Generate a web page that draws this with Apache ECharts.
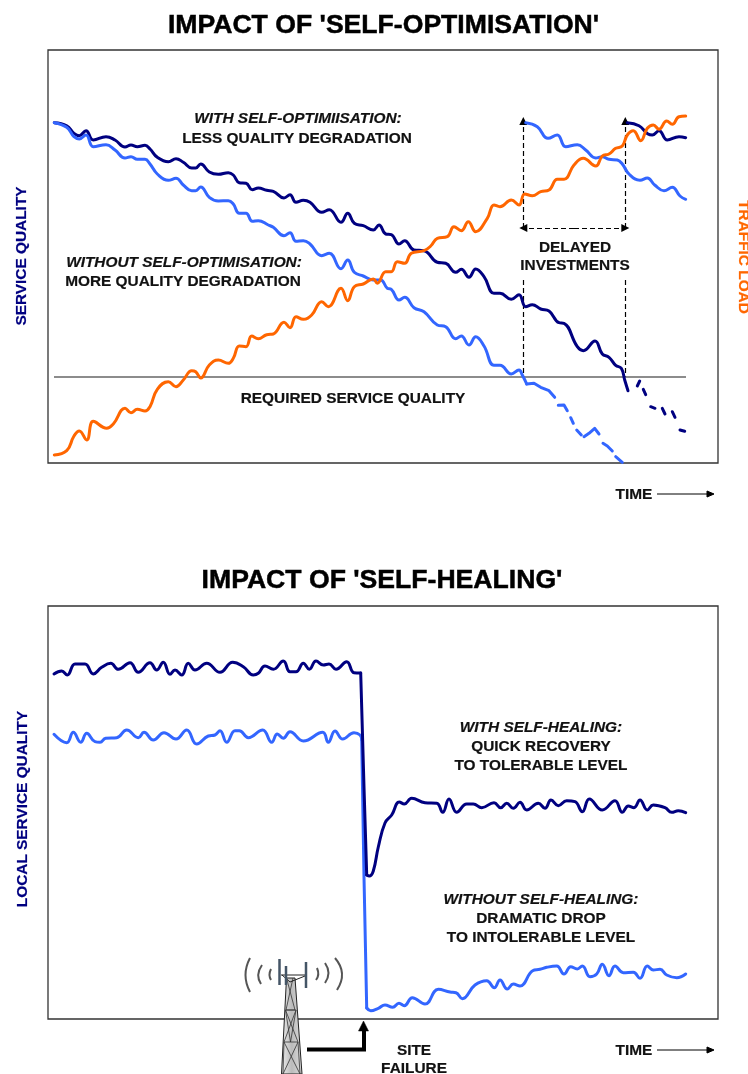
<!DOCTYPE html>
<html>
<head>
<meta charset="utf-8">
<title>Impact of self-optimisation and self-healing</title>
<script src="https://cdn.jsdelivr.net/npm/echarts@6/dist/echarts.min.js"></script>
<style>
    html, body { margin: 0; padding: 0; background: #fff; overflow: hidden; }
    #chart { width: 748px; height: 1074px; }
</style>
</head>
<body>
<div id="chart"></div>
<script>
// Top chart: [time, level], null marks a gap between dashes
const optWith = [[6.3,340.3],[18.7,337.3],[26,329.7],[31.3,327.3],[38,332.3],[45.3,323],[58,326.3],[67,323],[77,316],[83,318],[89.3,316.3],[97,317.7],[102,314],[109.3,305.7],[120.3,301.3],[128,304.3],[135.3,300.7],[143.7,295],[147.7,295],[152.7,299],[161.3,291],[170.3,288.7],[180.3,290.3],[185.3,288],[191.3,280.3],[198,279.7],[204.3,273.3],[210.3,275],[218.7,272.7],[225.3,271.7],[236,265],[242,268.3],[248,260.7],[255.3,262.7],[262,260.7],[273.7,250.7],[281.3,253.3],[293,240.7],[299.7,249.7],[306.3,239.7],[315.3,237.3],[325.3,233],[331,238],[337.7,229],[343.3,228.3],[351,219],[356.7,222.3],[366,213],[376,212.3],[389.3,200.7],[397.7,199.7],[407.7,190.7],[413.3,193.7],[421,185.7],[427.7,194],[436,186.3],[446,169.7],[452,169.7],[463.3,163.7],[471,168.3],[477.7,156.3],[484.3,158.3],[492.7,154],[501,152],[511,140.3],[516,139.7],[529.3,116.3],[535.3,112.3],[547,122],[554.3,109],[561,105.7],[567.7,97.7],[573.3,94.7],[576.7,83],[580,72.3]];
const optWithDashes = [[589.3,77],[591.7,82],[592,null],[595.3,73.7],[597.7,68.3],[600,null],[602.7,56.3],[607,54.7],[610,null],[614.3,54.7],[617,49],[620,null],[624.3,51.3],[627,45.7],[630,null],[632,33],[636.7,31.7]];
const optWithDelayed = [[579.3,340.3],[591,337.3],[600,329],[604.3,328],[611,332.3],[619.3,323],[631,326.3],[637.7,325.3]];
const optWithout = [[6.3,340.3],[18.7,335.7],[26,326.3],[31.3,324],[38,328],[45.3,316.3],[58,318.3],[67,313],[77,305],[83,306.3],[89.3,303.7],[97,303.7],[102,299],[109.3,289],[120.3,282.7],[128,284.7],[135.3,278],[143.7,272.3],[147.7,272.3],[152.7,276],[161.3,265.7],[170.3,262],[180.3,262.3],[185.3,259],[191.3,249.7],[198,249.7],[204.3,241.7],[210.3,242.3],[220.3,238],[225.3,235.7],[236,227.3],[242,230.3],[248,221.7],[255.3,222.3],[262,219],[273.7,207.3],[281.3,209.7],[293,194.3],[299.7,203],[306.3,190.7],[315.3,187],[325.3,183],[332.7,183],[339.3,174.7],[343.3,173.7],[351,163],[356.7,165.7],[366,155.3],[376,151.3],[389.3,138],[397.7,136.3],[407.7,124.3],[413.3,127],[421,118],[427.7,126.3],[436,117],[446,97.7],[452,97.7],[463.3,89],[471,93],[474.3,88],[478.7,79]];
const optWithoutDashes = [[478.7,79],[486,79.7],[492.7,75.7],[501,72.3],[506.7,65.7],[508,null],[510.3,57.7],[516,58],[519.3,52.3],[521,null],[522.7,45.3],[525.3,39.7],[527,null],[528.7,33],[533.3,28],[534.5,null],[536,26.3],[541,29.7],[546.7,34.7],[551,29],[553,null],[555,19.7],[559.3,17],[564.3,12],[566,null],[567.7,6.3],[574.3,0.7]];
const optWithoutDelayed = [[477.7,340.3],[489.3,336.3],[500,324.7],[509.3,328],[517.7,316.3],[529.3,318.3],[537.7,313],[547.7,305],[554.3,306.3],[561,303.7],[569.3,303],[574.3,299],[581,289],[592,282.7],[599.3,285],[606.7,278],[616,272.3],[624.3,275.7],[632,267],[637.7,263.7]];
const trafficLoad = [[6.3,8],[18.7,12.3],[26,27],[31.3,32],[38.7,23],[45.3,41.7],[58.7,34.7],[65.3,39],[77,54.7],[83,50.3],[89.3,53.7],[97,52],[102,56.3],[109.3,73.7],[120.3,81.3],[128,76.3],[135.3,83],[143.7,92.3],[147.7,91.3],[152.7,85],[161.3,98],[170.3,103],[180.3,99.7],[185.3,104.7],[191.3,117],[198,116.3],[203.7,127],[210.3,124.3],[218.7,128.3],[225.3,129],[236,140.7],[242,135.3],[248,146.3],[255.3,143.7],[263.7,148],[273.7,161.3],[280.3,156.3],[293,174.7],[299.7,162.3],[306.3,176.3],[315.3,179],[325.3,184],[329.3,179.7],[337.7,191.3],[343.3,191.3],[349.3,201.3],[356.7,199.7],[363.3,209.7],[376,212.3],[382.7,217],[389.3,224.7],[399.3,226.3],[406,236.3],[413.3,232.3],[420.3,241.3],[427.7,231.3],[439.3,244.7],[446,258],[452,256.3],[463.3,263],[471,258],[476.7,269],[484.3,267.3],[492.7,271.3],[501,273],[509.3,283.7],[516,283.7],[526,298],[535.3,304.7],[547.7,297],[554.3,307],[561,309],[567.7,314.7],[574.3,317],[579.3,328],[585.3,332.3],[592.7,322.3],[599.3,334.7],[605.3,338],[611,333.7],[618.7,342],[624.3,338.7],[631,346.3],[637.7,347]];
const requiredQuality = [[6,86],[638,86]];
const delayedArrows = [
    [[475.3,235],[475.3,342]],
    [[577.3,235],[577.3,342]],
    [[526,235],[475.3,235]],
    [[526,235],[577.3,235]]
];
const delayedDrops = [
    [[475.3,183],[475.3,86]],
    [[577.3,183],[577.3,86]]
];

// Bottom chart, split at the site failure so the drop stays sharp
const healWithBefore = [[6,345],[13.7,348],[19.3,344],[27,355],[37,355],[45.3,345],[53.7,351.7],[62.7,355.7],[70.3,349.7],[82,356.3],[90.3,346.7],[102,356.3],[108.7,349],[115.3,356.7],[122,344.7],[127,349],[133.7,344],[140.3,355.7],[147,349],[158.7,355.7],[172,346.7],[184.7,356.7],[195.3,352.3],[205.3,344],[210.3,345.7],[217,353],[225.3,349.7],[235.3,358],[242,347.3],[248,347.3],[255.3,355.7],[261.3,349.7],[268,358],[275.3,354],[281,355],[288,349.7],[298.7,357.3],[306,346.3],[312.7,346]];
const healWithDrop = [[312.7,346],[316,232],[318.7,144]];
const healWithAfter = [[318.7,144],[321.3,143],[325.3,148],[330.3,172],[337,196],[343.7,204],[351.3,217],[356.3,215],[363.7,220.7],[377,216.3],[388.7,215.7],[394.7,206.7],[401,220],[408.7,206.7],[418.7,215],[425.3,215],[433.7,211.3],[446,216.3],[452.7,211.3],[458.7,215.7],[465.3,210.7],[472,216.7],[478.7,209],[490.3,215.7],[497,210.7],[503,219],[510.3,213.3],[518.7,218.3],[527,217.3],[534.3,207.3],[541.3,220],[554.3,209],[567,218.3],[574.3,206.7],[580.3,213],[586,211.3],[592,219],[599.3,209],[605.3,214],[617,211.3],[623.7,206.7],[630.3,208.3],[637.7,206.3]];
const healWithoutBefore = [[6,284.7],[18.7,276.3],[25.3,286.7],[32.7,276.7],[38.7,285.7],[47,277.3],[52,276.7],[57.7,280.7],[68.7,281.3],[78.7,289],[90.3,281.3],[96,286.7],[105.3,279],[116,286.3],[128,280],[138.7,289],[148.7,275],[160.3,283],[167,284],[172,288.3],[178.7,276.7],[187,288.3],[191.3,288.3],[200.3,281.3],[214.7,289],[223.7,276.7],[229.3,285],[235.3,280.7],[242,287.3],[255.3,278],[274.7,286.7],[280.3,276.7],[287,288],[294.7,280],[306,286.3],[312,284],[313.7,279]];
const healWithoutDrop = [[313.7,279],[316,142],[318.7,11]];
const healWithoutAfter = [[318.7,11],[322.7,8.3],[330.3,10.7],[337,14],[344.7,11.7],[351,15.7],[356.3,13.3],[364.3,21.3],[377,15],[390.3,29.7],[402,27],[408,26.3],[414.3,20.3],[427,34],[438.7,38.3],[446.3,31.3],[452,39],[459.3,30],[465.3,35],[472,33],[484.7,48.3],[492,49.7],[498.7,51.7],[508.7,53],[516,45],[522.7,52.3],[529.3,50],[534.3,53],[542,42.3],[548.7,45],[554.3,54.7],[561,43.3],[567,53],[575.3,46.3],[585.3,46.7],[592,40.7],[599.3,53],[605.3,49],[612,49.7],[618.7,44],[628.7,41.3],[637.7,45]];

const NAVY = '#000080';
const BLUE = '#3366ff';
const ORANGE = '#ff6600';
const FONT = '"Liberation Sans", Arial, sans-serif';

function curve(name, data, color, gridIndex, smooth) {
    return {
        name: name,
        type: 'line',
        xAxisIndex: gridIndex,
        yAxisIndex: gridIndex,
        data: data,
        showSymbol: false,
        smooth: smooth === undefined ? 0.45 : smooth,
        connectNulls: false,
        lineStyle: { color: color, width: 3, cap: 'round', join: 'round' },
        itemStyle: { color: color },
        silent: true
    };
}

function label(str, x, y, opts) {
    opts = opts || {};
    const color = opts.color || '#111';
    const rotation = opts.rotation || 0;
    return {
        type: 'text',
        // glyphs sit a pixel high with middle alignment
        x: x + (rotation > 0 ? 1 : rotation < 0 ? -1 : 0),
        y: y + (rotation ? 0 : 1),
        rotation: rotation,
        silent: true,
        z: 10,
        style: {
            text: str,
            fill: color,
            stroke: color,
            lineWidth: opts.heavy || 0.2,
            font: (opts.italic ? 'italic ' : '') + 'bold ' + (opts.size || 15.4) + 'px ' + FONT,
            textAlign: 'center',
            textVerticalAlign: 'middle'
        }
    };
}

function poly(points, stroke, width, fill) {
    return {
        type: fill ? 'polygon' : 'polyline',
        silent: true,
        z: 10,
        shape: { points: points },
        style: { stroke: stroke, lineWidth: width, fill: fill || null }
    };
}

function wave(x1, y1, cx, cy, x2, y2) {
    return {
        type: 'bezierCurve',
        silent: true,
        z: 10,
        shape: { x1: x1, y1: y1, cpx1: cx, cpy1: cy, x2: x2, y2: y2 },
        style: { stroke: '#555', lineWidth: 2, fill: null }
    };
}

function timeArrow(y) {
    return [
        label('TIME', 634, y - 0.5),
        poly([[657, y], [708, y]], '#000', 1),
        poly([[707, y - 3], [714, y], [707, y + 3]], '#000', 1, '#000')
    ];
}

// site tower with its radio waves, bottom chart
const tower = [
    poly([[286.5, 978], [295, 978], [302, 1074], [281.5, 1074]], '#222', 1, {
        type: 'linear', x: 0, y: 0, x2: 1, y2: 0,
        colorStops: [{ offset: 0, color: '#eee' }, { offset: 0.5, color: '#bbb' }, { offset: 1, color: '#ddd' }]
    }),
    poly([[286.5, 978], [295, 1010], [286, 1010], [293, 978]], '#333', 0.8),
    poly([[285.5, 1010], [296, 1010], [284, 1042], [298, 1042], [285.5, 1010]], '#333', 0.8),
    poly([[296, 1010], [290.5, 1042], [285.5, 1010]], '#333', 0.8),
    poly([[284, 1042], [300, 1074], [298, 1042], [283, 1074], [284, 1042]], '#333', 0.8),
    poly([[281, 975], [305, 975]], '#222', 1),
    poly([[282, 975], [290, 982], [305, 976]], '#222', 1),
    poly([[279.5, 959], [279.5, 985]], '#456', 2.5),
    poly([[286, 966], [286, 985]], '#456', 2.5),
    poly([[306, 962], [306, 988]], '#456', 2.5),
    wave(250, 958, 241, 975, 250, 992),
    wave(262, 965, 255, 975, 261, 984),
    wave(271, 969, 268, 975, 271, 980),
    wave(317, 968, 320, 975, 316, 980),
    wave(325, 963, 332, 973, 325, 983),
    wave(335, 958, 348, 973, 337, 990)
];

const chart = echarts.init(document.getElementById('chart'));
chart.setOption({
    animation: false,
    backgroundColor: '#fff',
    grid: [
        { left: 48, top: 50, width: 670, height: 413, show: true, borderColor: '#333', borderWidth: 1.3, backgroundColor: '#fff' },
        { left: 48, top: 606, width: 670, height: 413, show: true, borderColor: '#333', borderWidth: 1.3, backgroundColor: '#fff' }
    ],
    xAxis: [
        { type: 'value', gridIndex: 0, min: 0, max: 670, show: false },
        { type: 'value', gridIndex: 1, min: 0, max: 670, show: false }
    ],
    yAxis: [
        { type: 'value', gridIndex: 0, min: 0, max: 413, show: false },
        { type: 'value', gridIndex: 1, min: 0, max: 413, show: false }
    ],
    series: [
        {
            type: 'line',
            data: requiredQuality,
            showSymbol: false,
            lineStyle: { color: '#666', width: 1.5 },
            itemStyle: { color: '#666' },
            silent: true
        },
        {
            type: 'lines',
            coordinateSystem: 'cartesian2d',
            data: delayedArrows.map(function (c) { return { coords: c }; }),
            symbol: ['none', 'triangle'],
            symbolSize: 8,
            lineStyle: { color: '#000', width: 1.2, type: [5, 3], opacity: 1, curveness: 0 },
            silent: true,
            z: 3
        },
        {
            type: 'lines',
            coordinateSystem: 'cartesian2d',
            data: delayedDrops.map(function (c) { return { coords: c }; }),
            symbol: ['none', 'none'],
            lineStyle: { color: '#000', width: 1.2, type: [5, 3], opacity: 1, curveness: 0 },
            silent: true,
            z: 3
        },
        curve('with', optWith, NAVY, 0),
        curve('with dashes', optWithDashes, NAVY, 0, 0),
        curve('with delayed', optWithDelayed, NAVY, 0),
        curve('without', optWithout, BLUE, 0),
        curve('without dashes', optWithoutDashes, BLUE, 0, 0),
        curve('without delayed', optWithoutDelayed, BLUE, 0),
        curve('traffic', trafficLoad, ORANGE, 0),
        curve('heal without before', healWithoutBefore, BLUE, 1),
        curve('heal without drop', healWithoutDrop, BLUE, 1, 0),
        curve('heal without after', healWithoutAfter, BLUE, 1),
        curve('heal with before', healWithBefore, NAVY, 1),
        curve('heal with drop', healWithDrop, NAVY, 1, 0),
        curve('heal with after', healWithAfter, NAVY, 1)
    ],
    graphic: [
        label("IMPACT OF 'SELF-OPTIMISATION'", 383.5, 25, { size: 26.6, color: '#000', heavy: 0.5 }),
        label("IMPACT OF 'SELF-HEALING'", 382, 580, { size: 26.6, color: '#000', heavy: 0.5 }),
        label('SERVICE QUALITY', 21, 256, { rotation: Math.PI / 2, color: NAVY }),
        label('LOCAL SERVICE QUALITY', 22, 809, { rotation: Math.PI / 2, color: NAVY }),
        label('TRAFFIC LOAD', 744, 257, { rotation: -Math.PI / 2, color: ORANGE }),
        label('WITH SELF-OPTIMIISATION:', 298, 118, { italic: true }),
        label('LESS QUALITY DEGRADATION', 297, 138),
        label('WITHOUT SELF-OPTIMISATION:', 184, 262, { italic: true }),
        label('MORE QUALITY DEGRADATION', 183, 281),
        label('REQUIRED SERVICE QUALITY', 353, 398),
        label('DELAYED', 575, 247),
        label('INVESTMENTS', 575, 265),
        label('WITH SELF-HEALING:', 541, 727, { italic: true }),
        label('QUICK RECOVERY', 541, 746),
        label('TO TOLERABLE LEVEL', 541, 765),
        label('WITHOUT SELF-HEALING:', 541, 899, { italic: true }),
        label('DRAMATIC DROP', 541, 918),
        label('TO INTOLERABLE LEVEL', 541, 937),
        label('SITE', 414, 1050),
        label('FAILURE', 414, 1068),
        poly([[307, 1049.5], [364, 1049.5], [364, 1029]], '#000', 4),
        poly([[358.5, 1031], [363.5, 1021], [368.5, 1031]], '#000', 0.5, '#000')
    ].concat(timeArrow(494), timeArrow(1050), tower)
});
</script>
</body>
</html>
